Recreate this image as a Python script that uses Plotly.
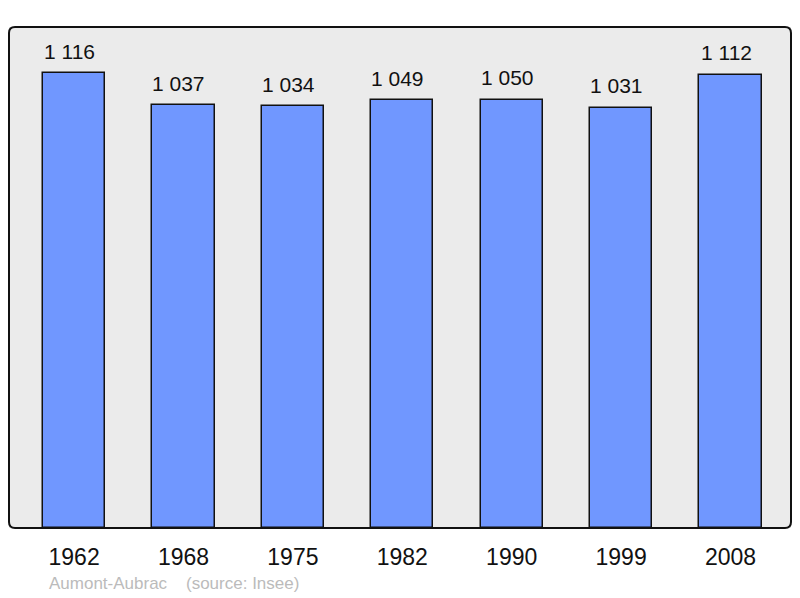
import plotly.graph_objects as go

years = ["1962", "1968", "1975", "1982", "1990", "1999", "2008"]
population = [1116, 1037, 1034, 1049, 1050, 1031, 1112]
labels = ["1 116", "1 037", "1 034", "1 049", "1 050", "1 031", "1 112"]

W, H = 800, 598
L, R, T, B = 9, 9, 27, 70
FONT = "Liberation Sans, Arial, sans-serif"

fig = go.Figure()
fig.add_trace(go.Bar(
    x=list(range(len(years))), y=population,
    width=0.57,
    marker=dict(color="#7097ff", line=dict(color="#111111", width=1.5)),
    hoverinfo="skip",
))

for i, (v, t) in enumerate(zip(population, labels)):
    fig.add_annotation(x=i, y=v, text=t, showarrow=False, yshift=22, xshift=-4.5,
                       font=dict(size=21, color="#111111", family=FONT),
                       xref="x", yref="y")

# rounded border
r = 0.012
rx = r * (H - T - B) / (W - L - R)
path = (f"M {rx},0 L {1-rx},0 Q 1,0 1,{r} L 1,{1-r} Q 1,1 {1-rx},1 "
        f"L {rx},1 Q 0,1 0,{1-r} L 0,{r} Q 0,0 {rx},0 Z")
fig.add_shape(type="path", path=path, xref="paper", yref="paper",
              line=dict(color="#111111", width=2), layer="above")

fig.add_annotation(x=(47 - L) / (W - L - R), y=(H - B - 583) / (H - T - B),
                   xref="paper", yref="paper", text="Aumont-Aubrac    (source: Insee)",
                   showarrow=False, xanchor="left", yanchor="middle",
                   font=dict(size=17, color="#bbbbbb", family=FONT))

fig.update_layout(
    width=W, height=H,
    margin=dict(l=L, r=R, t=T, b=B),
    paper_bgcolor="white", plot_bgcolor="#ebebeb",
    showlegend=False,
    bargap=0,
    xaxis=dict(tickmode="array", tickvals=list(range(len(years))), ticktext=years,
               range=[-0.595, 6.553], showgrid=False, zeroline=False,
               ticks="outside", ticklen=8, tickcolor="rgba(0,0,0,0)",
               tickfont=dict(size=23, color="#111111", family=FONT),
               fixedrange=True),
    yaxis=dict(range=[0, 1229], showgrid=False, zeroline=False, showticklabels=False,
               fixedrange=True),
    font=dict(family=FONT),
)

fig.write_html("out.html", config={"displayModeBar": False},
               post_script="document.body.style.margin='0';")
